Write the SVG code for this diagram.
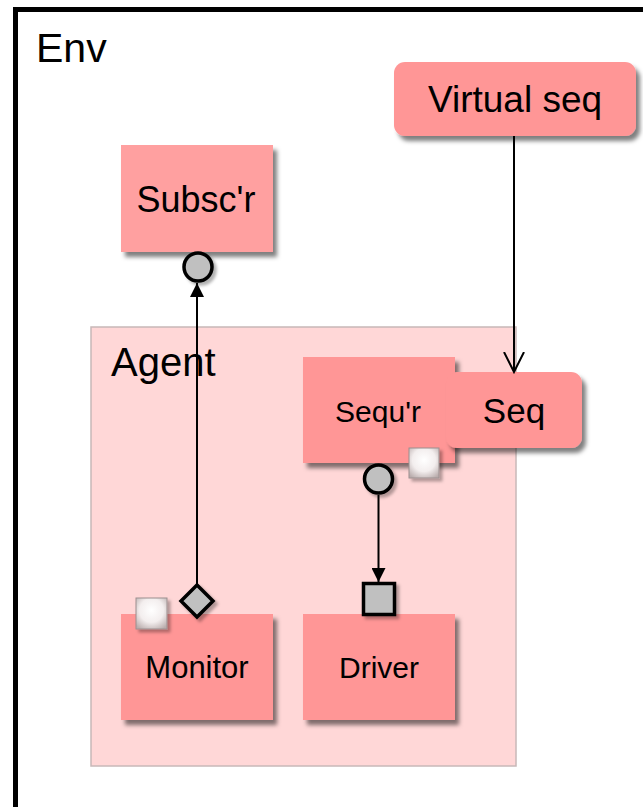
<svg xmlns="http://www.w3.org/2000/svg" width="643" height="807" viewBox="0 0 643 807">
  <defs>
    <filter id="shadow" x="-20%" y="-20%" width="150%" height="150%">
      <feDropShadow dx="4" dy="5" stdDeviation="2.2" flood-color="#000" flood-opacity="0.5"/>
    </filter>
    <filter id="portShadow" x="-40%" y="-40%" width="190%" height="190%">
      <feDropShadow dx="3" dy="3" stdDeviation="1.6" flood-color="#000" flood-opacity="0.3"/>
    </filter>
    <radialGradient id="bevel" cx="0.5" cy="0.4" r="0.7">
      <stop offset="0" stop-color="#ffffff"/>
      <stop offset="0.55" stop-color="#f3eeee"/>
      <stop offset="1" stop-color="#b9acac"/>
    </radialGradient>
    <marker id="solidHead" viewBox="0 0 14 14" refX="14" refY="7" markerWidth="14" markerHeight="14" markerUnits="userSpaceOnUse" orient="auto">
      <path d="M0,0 L14,7 L0,14 Z" fill="#000"/>
    </marker>
    <marker id="openHead" viewBox="0 0 22 22" refX="20" refY="11" markerWidth="22" markerHeight="22" markerUnits="userSpaceOnUse" orient="auto">
      <path d="M0,1 L20,11 L0,21" fill="none" stroke="#000" stroke-width="2"/>
    </marker>
  </defs>
  <style>
    .label { font-family: "Liberation Sans", Arial, sans-serif; fill: #000; }
    .box { fill: #ff9696; filter: url(#shadow); }
    .port { fill: #c0c0c0; stroke: #000; stroke-width: 3.5; filter: url(#portShadow); }
    .chip { fill: url(#bevel); stroke: #9c9090; stroke-width: 1; filter: url(#portShadow); }
    .wire { stroke: #000; stroke-width: 2; fill: none; }
  </style>

  <rect width="643" height="807" fill="#fff"/>

  <!-- environment frame -->
  <g id="env">
    <path d="M15.5,812 V9.5 H650" fill="none" stroke="#000" stroke-width="5"/>
    <text class="label" x="36" y="62" font-size="41">Env</text>
  </g>

  <!-- agent container -->
  <g id="agent">
    <rect x="91" y="327" width="425" height="439" fill="#ffd7d7" stroke="#c8b8b8" stroke-width="1.5"/>
    <text class="label" x="111" y="376" font-size="40">Agent</text>
  </g>

  <g id="virtual-seq">
    <rect class="box" x="394" y="62" width="242" height="74" rx="11"/>
    <text class="label" x="515" y="112" font-size="37" text-anchor="middle">Virtual seq</text>
  </g>

  <g id="subscriber">
    <rect class="box" x="121" y="145" width="152" height="107" style="fill:#ffa0a0"/>
    <text class="label" x="196" y="212" font-size="36" text-anchor="middle">Subsc'r</text>
    <circle class="port" cx="198" cy="267" r="14"/>
  </g>

  <g id="sequencer">
    <rect class="box" x="303" y="357" width="152" height="106"/>
    <text class="label" x="378" y="422" font-size="30" text-anchor="middle">Sequ'r</text>
    <rect class="chip" x="409" y="448" width="30" height="30"/>
    <circle class="port" cx="378.5" cy="479" r="14"/>
  </g>

  <g id="seq">
    <rect class="box" x="446" y="372" width="136" height="76" rx="11"/>
    <text class="label" x="514" y="423" font-size="35" text-anchor="middle">Seq</text>
  </g>

  <g id="monitor">
    <rect class="box" x="121" y="614" width="152" height="106"/>
    <text class="label" x="197" y="678" font-size="31" text-anchor="middle">Monitor</text>
    <rect class="chip" x="136" y="598" width="31" height="31"/>
    <path class="port" d="M197,585 L213,601 L197,617 L181,601 Z"/>
  </g>

  <g id="driver">
    <rect class="box" x="303" y="614" width="152" height="106"/>
    <text class="label" x="379" y="678" font-size="30" text-anchor="middle">Driver</text>
    <rect class="port" x="363.5" y="583.5" width="31" height="31"/>
  </g>

  <!-- connectors -->
  <g id="connectors">
    <line class="wire" x1="197" y1="584" x2="197" y2="283" marker-end="url(#solidHead)"/>
    <line class="wire" x1="514" y1="136" x2="514" y2="372" marker-end="url(#openHead)"/>
    <line class="wire" x1="378.5" y1="495" x2="378.5" y2="582" marker-end="url(#solidHead)"/>
  </g>
</svg>
